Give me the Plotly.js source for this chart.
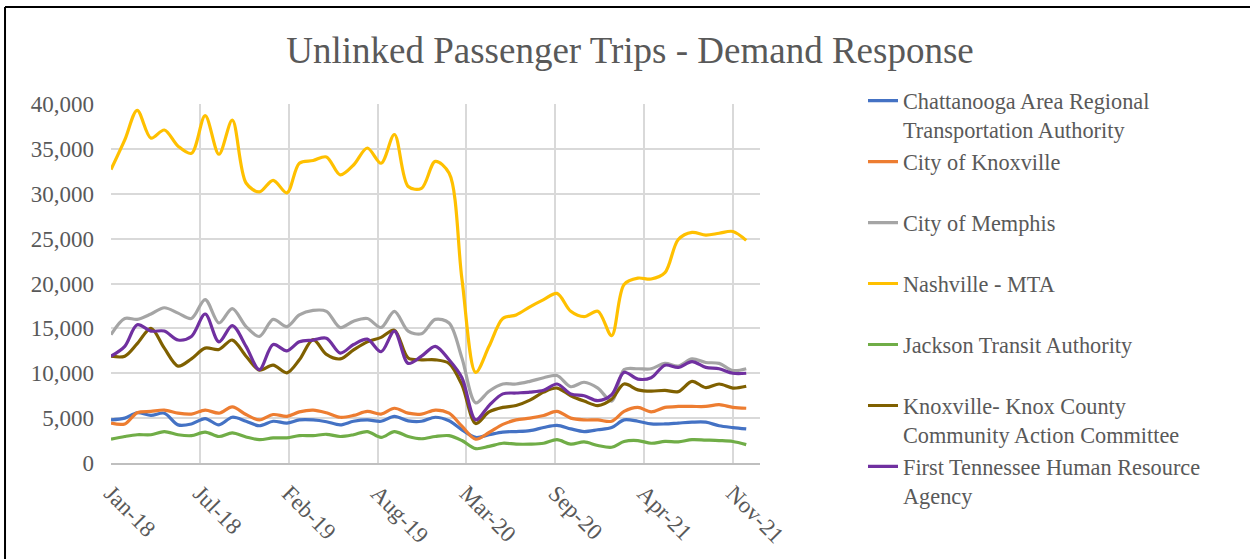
<!DOCTYPE html>
<html>
<head>
<meta charset="utf-8">
<script src="https://cdn.plot.ly/plotly-3.0.1.min.js"></script>
<style>
  html, body { margin: 0; padding: 0; background: #ffffff; }
  #chart { width: 1250px; height: 559px; }
</style>
</head>
<body>
<div id="chart"></div>
<script>
// Months (first of each month), Jan 2018 - Dec 2021
const months = [
  '2018-01-01','2018-02-01','2018-03-01','2018-04-01','2018-05-01','2018-06-01',
  '2018-07-01','2018-08-01','2018-09-01','2018-10-01','2018-11-01','2018-12-01',
  '2019-01-01','2019-02-01','2019-03-01','2019-04-01','2019-05-01','2019-06-01',
  '2019-07-01','2019-08-01','2019-09-01','2019-10-01','2019-11-01','2019-12-01',
  '2020-01-01','2020-02-01','2020-03-01','2020-04-01','2020-05-01','2020-06-01',
  '2020-07-01','2020-08-01','2020-09-01','2020-10-01','2020-11-01','2020-12-01',
  '2021-01-01','2021-02-01','2021-03-01','2021-04-01','2021-05-01','2021-06-01',
  '2021-07-01','2021-08-01','2021-09-01','2021-10-01','2021-11-01','2021-12-01'
];

const chattanooga = [
  4800, 5000, 5600, 5300, 5550, 4250, 4350, 4950, 4250, 5100, 4650, 4150,
  4650, 4450, 4800, 4800, 4600, 4250, 4650, 4800, 4650, 5200, 4700, 4650,
  5100, 4700, 3700, 2850, 3150, 3450, 3500, 3600, 3950, 4200, 3800, 3500,
  3700, 3950, 4800, 4650, 4350, 4350, 4450, 4550, 4550, 4150, 3950, 3800
];
const knoxvilleCity = [
  4450, 4350, 5600, 5750, 5900, 5550, 5450, 5900, 5550, 6250, 5400, 4800,
  5400, 5200, 5700, 5900, 5600, 5100, 5300, 5750, 5450, 6100, 5550, 5450,
  5900, 5550, 4100, 2650, 3400, 4300, 4800, 5000, 5300, 5750, 5000, 4800,
  4800, 4650, 5750, 6200, 5700, 6200, 6300, 6300, 6300, 6500, 6200, 6100
];
const memphis = [
  14300, 16100, 16000, 16600, 17300, 16700, 16100, 18200, 15600, 17200, 15200, 14100,
  16000, 15200, 16500, 17000, 16900, 15100, 15800, 16100, 15100, 16900, 14700, 14400,
  16000, 15600, 11700, 6700, 8000, 8800, 8800, 9100, 9500, 9750, 8500, 9000,
  8350, 6900, 10400, 10500, 10500, 11100, 10800, 11600, 11200, 11100, 10300, 10500
];
const nashville = [
  32700, 36000, 39300, 36200, 37100, 35300, 34500, 38700, 34400, 38200, 31200, 30200,
  31500, 30100, 33400, 33700, 34100, 32100, 33200, 35100, 33400, 36600, 30800, 30600,
  33600, 32300, 20500, 10100, 13000, 16100, 16500, 17400, 18200, 18900, 16900, 16300,
  16900, 14200, 19900, 20600, 20500, 21200, 24900, 25700, 25400, 25600, 25800, 24800
];
const jackson = [
  2650, 2950, 3150, 3150, 3500, 3150, 3050, 3450, 2950, 3350, 2900, 2600,
  2800, 2800, 3050, 3050, 3200, 2950, 3150, 3500, 2850, 3500, 2950, 2700,
  2950, 3050, 2500, 1600, 1850, 2200, 2100, 2100, 2200, 2600, 2100, 2350,
  1950, 1750, 2400, 2500, 2200, 2400, 2350, 2600, 2550, 2500, 2400, 2050
];
const knoxCAC = [
  11900, 11900, 13300, 15000, 12800, 10800, 11600, 12800, 12650, 13700, 11900, 10350,
  10900, 10050, 11500, 13750, 12100, 11600, 12600, 13500, 14000, 14800, 11700, 11500,
  11500, 11100, 8700, 4400, 5700, 6200, 6400, 7000, 7900, 8350, 7500, 6900,
  6400, 7100, 8800, 8150, 8000, 8100, 7950, 9100, 8400, 8800, 8350, 8550
];
const firstTennessee = [
  11900, 13000, 15400, 14700, 14700, 13700, 14100, 16600, 13500, 15300, 13000, 10400,
  13200, 12500, 13500, 13700, 13900, 12250, 13200, 13800, 12400, 14700, 11100, 11900,
  13000, 11500, 9500, 4800, 6400, 7700, 7800, 7900, 8100, 8800, 7700, 7500,
  6950, 7600, 10100, 9350, 9500, 10900, 10650, 11300, 10650, 10500, 10000, 10000
];

const seriesNames = [
  'Chattanooga Area Regional<br>Transportation Authority',
  'City of Knoxville<br> ',
  'City of Memphis<br> ',
  'Nashville - MTA<br> ',
  'Jackson Transit Authority<br> ',
  'Knoxville- Knox County<br>Community Action Committee',
  'First Tennessee Human Resource<br>Agency'
];
const seriesColors = ['#4472C4', '#ED7D31', '#A5A5A5', '#FFC000', '#70AD47', '#7F6000', '#7030A0'];
const seriesValues = [chattanooga, knoxvilleCity, memphis, nashville, jackson, knoxCAC, firstTennessee];

const tickDates = ['2018-01-01','2018-07-20','2019-02-05','2019-08-24','2020-03-11','2020-09-27','2021-04-15','2021-11-01'];
const tickLabels = ['Jan-18','Jul-18','Feb-19','Aug-19','Mar-20','Sep-20','Apr-21','Nov-21'];

const FONT = 'Liberation Serif, "Times New Roman", serif';
const TXT = '#595959';

const traces = seriesValues.map((vals, i) => ({
  type: 'scatter',
  mode: 'lines',
  x: months,
  y: vals,
  name: seriesNames[i],
  line: { color: seriesColors[i], width: 3.2, shape: 'spline', smoothing: 0.9 },
  hoverinfo: 'x+y+name'
}));

const layout = {
  width: 1250,
  height: 559,
  margin: { l: 111, r: 490, t: 104, b: 96, pad: 0 },
  paper_bgcolor: '#ffffff',
  plot_bgcolor: '#ffffff',
  font: { family: FONT, color: TXT, size: 23 },
  title: {
    text: 'Unlinked Passenger Trips - Demand Response',
    font: { family: FONT, color: TXT, size: 37 },
    x: 0.504, xref: 'container', xanchor: 'center',
    y: 0.91, yref: 'container', yanchor: 'middle'
  },
  xaxis: {
    type: 'date',
    range: ['2018-01-01', '2022-01-01'],
    tickmode: 'array',
    tickvals: tickDates,
    ticktext: tickLabels,
    tickangle: 45,
    showgrid: true,
    gridcolor: '#d9d9d9',
    gridwidth: 1.5,
    showline: true,
    linecolor: '#bfbfbf',
    linewidth: 1.5,
    ticks: '',
    zeroline: false,
    tickfont: { family: FONT, color: TXT, size: 23 },
    ticklabelstandoff: 6
  },
  yaxis: {
    range: [0, 40000],
    tick0: 0,
    dtick: 5000,
    tickformat: ',d',
    showgrid: true,
    gridcolor: '#d9d9d9',
    gridwidth: 1.5,
    showline: false,
    zeroline: false,
    ticks: '',
    tickfont: { family: FONT, color: TXT, size: 23 },
    ticklabelstandoff: 16
  },
  showlegend: true,
  legend: {
    x: 1.1587, xanchor: 'left',
    y: 1.068, yanchor: 'top',
    valign: 'top',
    maxheight: 700,
    font: { family: FONT, color: TXT, size: 22.3 },
    bgcolor: 'rgba(0,0,0,0)',
    borderwidth: 0,
    tracegroupgap: 0
  },
  shapes: [
    { type: 'line', xref: 'paper', yref: 'paper', x0: -0.1633, x1: -0.1633, y0: 1.27, y1: -0.5,
      line: { color: '#000000', width: 2 } },
    { type: 'line', xref: 'paper', yref: 'paper', x0: -0.1633, x1: 1.95, y0: 1.27, y1: 1.27,
      line: { color: '#000000', width: 2 } }
  ]
};

Plotly.newPlot('chart', traces, layout, { displayModeBar: false, responsive: false });
</script>
</body>
</html>
